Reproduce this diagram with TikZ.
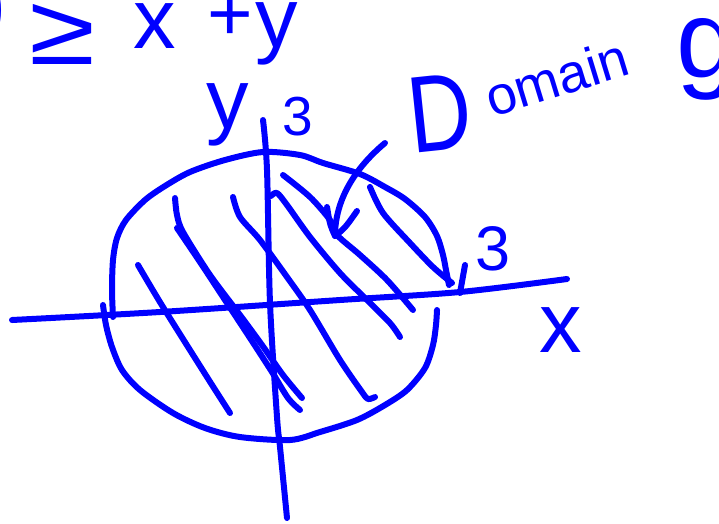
\documentclass[tikz,border=0pt]{standalone}
\usepackage{fontspec}
\usepackage{graphicx}
\setmainfont{Liberation Sans}
\definecolor{ink}{RGB}{0,0,255}
\newcommand\hfs[1]{\fontsize{#1}{#1}\selectfont}
\begin{document}
\begin{tikzpicture}[x=1pt,y=-1pt,
  stroke/.style={draw=ink,line width=6pt,line cap=round,line join=round},
  lbl/.style={text=ink,inner sep=0pt,outer sep=0pt}]
\useasboundingbox (0,0) rectangle (719,523);

% top (partially cut) inequality
\node[lbl,anchor=base east] (paren) at (7,32) {\hfs{85})};
\node[lbl,anchor=base] (geq) at (62,64) {\hfs{100}\scalebox{1.2}[1]{≥}};
\node[lbl,anchor=base] (tx) at (155,48) {\hfs{85}x};
\node[lbl,anchor=base] (tplus) at (230,40) {\hfs{78}+};
\node[lbl,anchor=base] (ty) at (277,47) {\hfs{85}y};

% axes
\draw[stroke] plot[smooth] coordinates {(12,320) (160,312) (340,300) (460,292) (567,279)};
\draw[stroke] plot[smooth] coordinates {(263,120) (267,170) (270,303) (277,417) (280,447) (287,518)};

% circle (two strokes)
\draw[stroke] plot[smooth] coordinates {(103,305) (106,325) (112,347) (122,370) (140,390) (173,413) (205,428) (240,437) (290,440) (320,432) (357,420) (385,405) (407,390) (425,368) (433,345) (436,325) (437,310)};
\draw[stroke] plot[smooth] coordinates {(113,317) (112,290) (113,260) (117,238) (126,220) (145,200) (165,186) (190,172) (225,160) (263,152) (300,155) (323,163) (360,174) (385,187) (405,199) (425,217) (437,236) (443,255) (446,270) (449,285)};

% hatching
\draw[stroke] plot[smooth] coordinates {(138,265) (163,307) (207,377) (230,413)};
\draw[stroke] plot[smooth] coordinates {(175,198) (177,215) (183,232) (210,275) (240,315) (262,345) (283,375) (302,398)};
\draw[stroke] plot[smooth] coordinates {(177,228) (200,262) (225,300) (250,338) (272,372) (288,398) (300,410)};
\draw[stroke] plot[smooth] coordinates {(233,197) (240,217) (260,240) (287,277) (310,310) (340,360) (362,392) (368,399) (375,397)};
\draw[stroke] plot[smooth] coordinates {(271,196) (277,193) (287,205) (310,237) (340,273) (367,300) (390,323) (400,337)};
\draw[stroke] plot[smooth] coordinates {(283,175) (310,197) (330,220) (337,235) (360,255) (387,280) (413,310)};
\draw[stroke] plot[smooth] coordinates {(370,187) (383,213) (410,243) (433,267) (452,283)};

% ticks
\draw[stroke] (465,265) -- (460,293);

% labels
\node[lbl,anchor=base] (ylab) at (228,128) {\hfs{85}y};
\node[lbl,anchor=base] (ythree) at (298,135) {\hfs{55}3};
\node[lbl,anchor=base] (xthree) at (493,270) {\hfs{63}3};
\node[lbl,anchor=base] (xlab) at (561,352) {\hfs{85}x};

% Domain g
\node[lbl,anchor=base,rotate=6] (dD) at (444,150) {\hfs{109}\scalebox{0.8}[1]{D}};
\node[lbl,anchor=base west,rotate=17] (domain) at (492,117) {\hfs{54}omain};
\node[lbl,anchor=base west] (dg) at (676,77) {\hfs{110}g};

% arrow
\coordinate (arrS) at (385,143);
\coordinate (arrT) at (335,236);
\draw[stroke] (arrS) .. controls (355,168) and (335,200) .. (arrT);
\draw[stroke] (327,207) .. controls (330,225) .. (arrT) .. controls (345,228) .. (357,211);
\end{tikzpicture}
\end{document}
